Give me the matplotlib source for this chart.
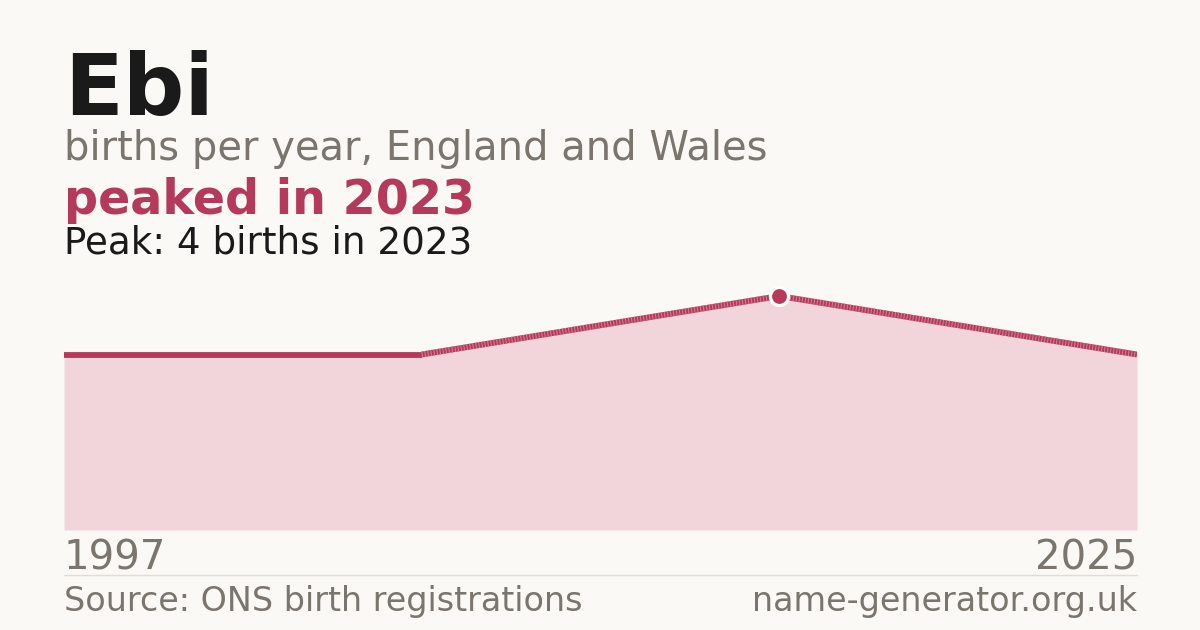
import matplotlib
matplotlib.use("Agg")
import matplotlib.pyplot as plt

# Data
years = [1997, 2021, 2023, 2025]
births = [3, 3, 4, 3]
peak_year = 2023
peak_value = 4
first_label = "1997"
last_label = "2025"

BG = "#faf9f5"
RED = "#b5395a"
STRIPE = "#d27d92"
FILL = "#f2d5da"
GREY = "#7a756d"
DARK = "#1a1a1a"

fig = plt.figure(figsize=(12, 6.3), dpi=100, facecolor=BG)
W, H = 1200, 630

ax = fig.add_axes([64 / W, (H - 530) / H, (1137 - 64) / W, 260 / H])
ax.set_facecolor(BG)
idx = list(range(len(years)))
LW = 4.2
ax.fill_between(idx, births, 0, color=FILL, lw=0, zorder=1)
# solid first segment
ax.plot(idx[:2], births[:2], color=RED, lw=LW, solid_capstyle="butt", zorder=3)
# textured later segments
ax.plot(idx[1:], births[1:], color=RED, lw=LW, solid_capstyle="butt", zorder=3)
ax.plot(idx[1:], births[1:], color=STRIPE, lw=LW, dashes=(0.18, 0.34),
        dash_capstyle="butt", zorder=4)
pi = years.index(peak_year)
ax.plot([idx[pi]], [births[pi]], "o", ms=13, color=RED, mec="white", mew=2.3, zorder=5)
ax.set_xlim(0, len(years) - 1)
ax.set_ylim(0, 260 / 58.5)
ax.axis("off")

def px(x, y):
    return x / W, 1 - y / H

fig.text(*px(64, 115), "Ebi", fontsize=62, fontweight="bold", color=DARK, va="baseline", ha="left")
fig.text(*px(64, 160), "births per year, England and Wales", fontsize=28.8, color=GREY, va="baseline", ha="left")
fig.text(*px(64, 214), f"peaked in {peak_year}", fontsize=34.3, fontweight="bold", color=RED, va="baseline", ha="left")
fig.text(*px(64, 254), f"Peak: {peak_value} births in {peak_year}", fontsize=26.8, color=DARK, va="baseline", ha="left")

fig.text(*px(64, 570), first_label, fontsize=29, color=GREY, va="baseline", ha="left")
fig.text(*px(1137, 570), last_label, fontsize=29, color=GREY, va="baseline", ha="right")

fig.add_artist(plt.Line2D([64 / W, 1137 / W], [1 - 575 / H, 1 - 575 / H], color="#e0ddd6", lw=1))

fig.text(*px(64, 611), "Source: ONS birth registrations", fontsize=24, color=GREY, va="baseline", ha="left")
fig.text(*px(1137, 611), "name-generator.org.uk", fontsize=24, color=GREY, va="baseline", ha="right")

fig.savefig("out.png", dpi=100, facecolor=BG)
